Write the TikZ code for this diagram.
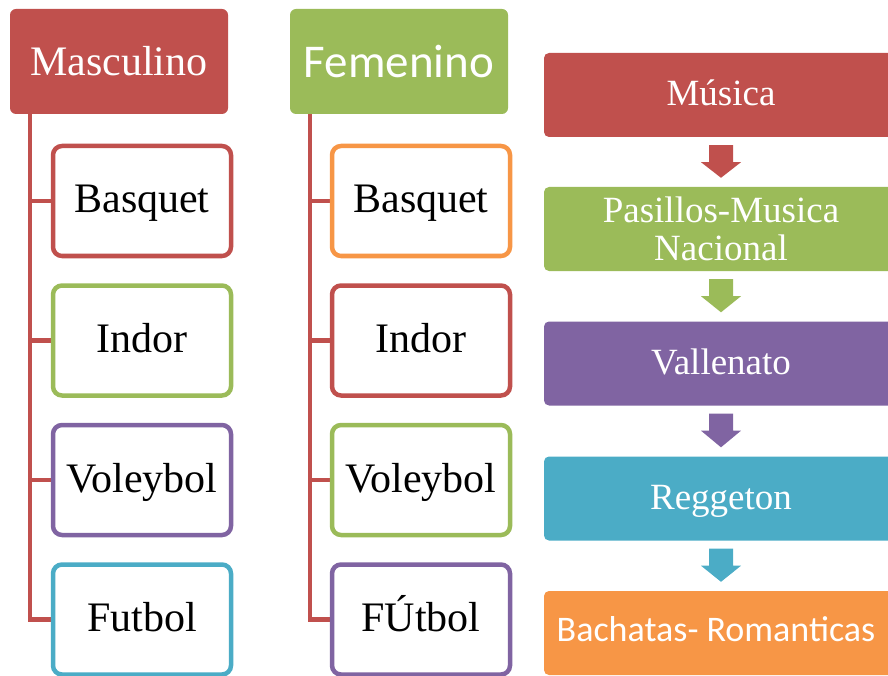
\documentclass[tikz,border=0pt]{standalone}
\usepackage{fontspec}
\setmainfont{Liberation Serif}
\newfontfamily\calibri{Carlito}
\usetikzlibrary{calc,backgrounds}
\definecolor{ored}{HTML}{C0504D}
\definecolor{ogreen}{HTML}{9BBB59}
\definecolor{opurple}{HTML}{8064A2}
\definecolor{oblue}{HTML}{4BACC6}
\definecolor{oorange}{HTML}{F79646}
\tikzstyle{hdr} = [rounded corners=6pt,minimum width=218pt,minimum height=105pt,inner sep=0pt,text=white]
\tikzstyle{kid} = [draw,fill=white,line width=4.5pt,rounded corners=9pt,minimum width=178pt,minimum height=110pt,inner sep=0pt,text height=28pt,text depth=4pt,font=\fontsize{42}{44}\selectfont]
\tikzstyle{mus} = [rounded corners=5pt,minimum width=354pt,minimum height=84pt,inner sep=0pt,text=white,align=center,font=\fontsize{37}{38}\selectfont]
\tikzstyle{oneline} = [text height=24pt,text depth=3pt]
\tikzstyle{trunk} = [draw=ored,line width=4.5pt]

\begin{document}
\begin{tikzpicture}[x=1pt,y=-1pt]
  \useasboundingbox (0,0) rectangle (888,676);
  \clip (0,0) rectangle (888,676);
  % Column heads
  \node[hdr,fill=ored,font=\fontsize{42}{44}\selectfont] (masc) at (119,61.5) {Masculino};
  \node[hdr,fill=ogreen,font=\calibri\fontsize{47}{50}\selectfont] (fem) at (399,61.5) {Femenino};
  % Sports
  \foreach \t/\c [count=\i] in {Basquet/ored,Indor/ogreen,Voleybol/opurple,Futbol/oblue} {
    \node[kid,draw=\c] (m\i) at (142,61.5+139.5*\i) {\t};
  }
  \foreach \t/\c [count=\i] in {Basquet/oorange,Indor/ored,Voleybol/ogreen,FÚtbol/opurple} {
    \node[kid,draw=\c] (f\i) at (421,61.5+139.5*\i) {\t};
  }
  \coordinate (mtop) at ($(masc.south west)+(20,0)$);
  \coordinate (ftop) at ($(fem.south west)+(20,0)$);
  \begin{scope}[on background layer]
    \foreach \i in {1,2,3,4} {
      \draw[trunk] (mtop) |- (m\i.west);
      \draw[trunk] (ftop) |- (f\i.west);
    }
  \end{scope}
  % Music
  \node[mus,oneline,fill=ored] (mus1) at (721,95) {Música};
  \node[mus,fill=ogreen] (mus2) at (721,229) {Pasillos-Musica\\Nacional};
  \node[mus,oneline,fill=opurple] (mus3) at (721,363.5) {Vallenato};
  \node[mus,oneline,fill=oblue] (mus4) at (721,498.5) {Reggeton};
  \node[mus,fill=oorange,text height=26pt,text depth=9pt,font=\calibri\fontsize{36}{38}\selectfont] (mus5) at (721,633) {Bachatas- Romanticas\hspace*{10pt}};
  \foreach \a/\b/\c in {mus1/mus2/ored,mus2/mus3/ogreen,mus3/mus4/opurple,mus4/mus5/oblue} {
    \fill[\c] ($(\a.south)+(-12,8)$) -- ($(\a.south)+(12,8)$) -- ($(\a.south)+(12,25)$)
      -- ($(\a.south)+(20,25)$) -- ($(\b.north)+(0,-9)$) -- ($(\a.south)+(-20,25)$)
      -- ($(\a.south)+(-12,25)$) -- cycle;
  }
\end{tikzpicture}
\end{document}
